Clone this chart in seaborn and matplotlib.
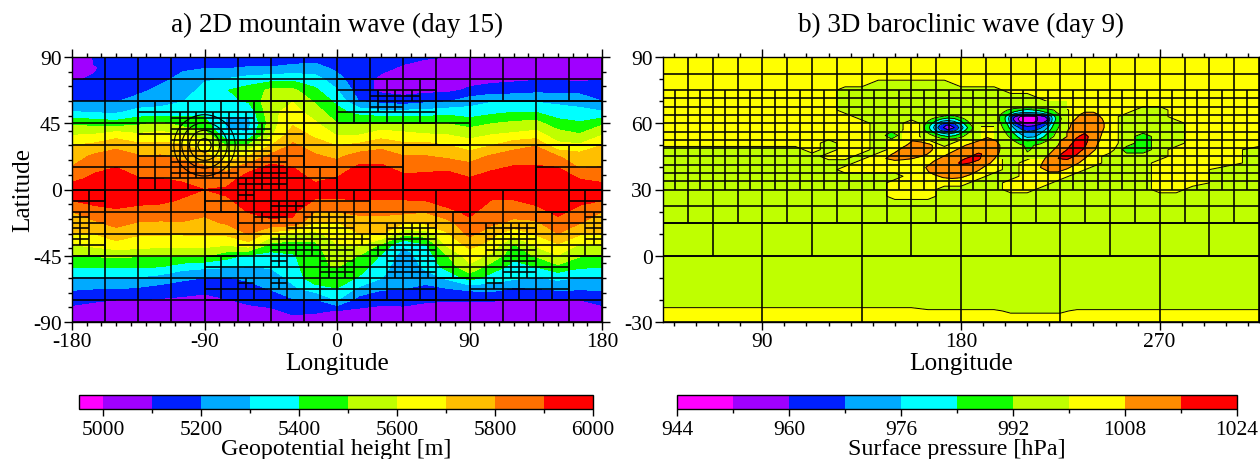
import numpy as np
import matplotlib
matplotlib.use("Agg")
import matplotlib.pyplot as plt
from matplotlib.patches import Circle
from matplotlib.ticker import FixedLocator, MultipleLocator
import seaborn as sns

# -----------------------------
# Panel a) geopotential height, one list per longitude, lat 90 -> -90
# -----------------------------
height_lons = np.arange(-180, 181, 15)
height_lats = np.arange(90, -91, -7.5)
height_columns = [
    [4985,5080,5095,5150,5200,5310,5480,5590,5700,5750,5805,5865,5960,5900,5800,5750,5700,5600,5500,5410,5290,5210,5130,5070,5040],
    [5110,5095,5105,5160,5195,5290,5460,5600,5725,5820,5870,5925,5980,5930,5860,5785,5700,5625,5510,5410,5290,5200,5110,5060,5040],
    [5130,5120,5130,5160,5195,5285,5440,5650,5775,5845,5900,5950,5985,5940,5885,5830,5760,5665,5515,5410,5290,5200,5100,5060,5040],
    [5130,5150,5170,5180,5230,5340,5475,5610,5725,5810,5860,5905,5950,5930,5860,5795,5710,5650,5510,5410,5290,5185,5100,5060,5040],
    [5150,5170,5180,5220,5265,5335,5515,5630,5730,5810,5855,5900,5945,5920,5855,5790,5710,5630,5505,5400,5260,5160,5090,5060,5040],
    [5170,5190,5220,5260,5295,5360,5455,5595,5710,5780,5835,5885,5930,5890,5845,5795,5710,5625,5520,5340,5220,5145,5080,5060,5040],
    [5150,5195,5290,5325,5350,5380,5430,5550,5650,5735,5815,5860,5900,5870,5825,5770,5715,5630,5510,5320,5200,5130,5065,5050,5040],
    [5140,5195,5305,5395,5380,5310,5285,5310,5490,5635,5770,5850,5915,5890,5855,5815,5720,5610,5440,5310,5195,5145,5095,5060,5040],
    [5130,5210,5340,5445,5410,5320,5270,5310,5520,5710,5860,5950,5975,5925,5905,5850,5805,5660,5380,5300,5215,5170,5115,5080,5050],
    [5120,5210,5360,5520,5570,5575,5555,5575,5695,5830,5930,5970,5990,5950,5925,5885,5660,5470,5360,5310,5245,5205,5145,5080,5050],
    [5140,5230,5370,5520,5595,5640,5685,5750,5815,5860,5900,5940,5970,5945,5920,5880,5600,5450,5390,5360,5330,5280,5190,5120,5060],
    [5150,5240,5340,5420,5485,5550,5615,5675,5750,5815,5850,5885,5925,5895,5800,5695,5575,5475,5455,5490,5470,5350,5185,5110,5060],
    [5130,5175,5240,5305,5375,5435,5500,5590,5695,5780,5845,5905,5950,5885,5805,5695,5650,5595,5550,5505,5455,5395,5305,5095,5040],
    [5130,5115,5125,5150,5195,5365,5490,5590,5725,5845,5920,5960,5985,5900,5820,5760,5700,5615,5495,5445,5390,5275,5155,5080,5040],
    [5130,5115,5085,5075,5170,5330,5515,5650,5770,5850,5920,5965,5985,5890,5820,5765,5710,5485,5390,5345,5305,5210,5135,5065,5040],
    [5120,5090,5060,5060,5145,5335,5490,5630,5725,5805,5865,5925,5980,5895,5825,5710,5535,5305,5260,5230,5225,5200,5125,5080,5040],
    [5105,5080,5060,5070,5175,5340,5495,5605,5735,5805,5870,5935,5980,5900,5805,5720,5550,5390,5340,5320,5250,5165,5110,5070,5040],
    [5100,5070,5060,5075,5190,5365,5495,5595,5700,5780,5875,5950,5985,5950,5870,5770,5690,5620,5495,5440,5320,5195,5105,5060,5040],
    [5060,5060,5065,5115,5255,5345,5455,5565,5650,5750,5840,5905,5960,5975,5925,5875,5830,5730,5650,5580,5440,5220,5105,5060,5040],
    [5060,5060,5070,5145,5290,5375,5495,5595,5695,5815,5880,5945,5980,5895,5850,5825,5730,5670,5575,5450,5360,5235,5105,5060,5040],
    [5060,5060,5080,5155,5285,5400,5520,5615,5765,5845,5910,5955,5985,5895,5845,5775,5635,5490,5425,5370,5320,5185,5100,5060,5040],
    [5060,5065,5090,5170,5290,5400,5535,5635,5795,5855,5910,5955,5985,5930,5860,5785,5710,5620,5510,5400,5290,5195,5100,5060,5040],
    [5060,5065,5090,5170,5275,5350,5435,5545,5625,5805,5900,5950,5985,5960,5925,5865,5800,5690,5595,5475,5325,5215,5100,5060,5040],
    [5060,5065,5080,5170,5255,5335,5410,5505,5615,5750,5790,5895,5960,5925,5865,5805,5715,5590,5510,5415,5290,5210,5100,5060,5040],
    [5060,5080,5095,5150,5200,5310,5480,5590,5700,5750,5805,5865,5960,5900,5800,5750,5700,5600,5500,5410,5290,5210,5130,5070,5040],
]
height_levels = [4950] + list(range(5000, 6001, 100))
mountain_center = (-90, 30)
mountain_radii = [4.5, 10.2, 15.4, 20.8]

# mesh blocks: a=45x30 deg, 0=22.5x15, 1=11.25x7.5, 2=split once more
height_mesh = [
    "0000 0000 0000 0000 0000 0000 0000 0000",
    "0000 0000 0000 0000 0000 0000 0000 0000",
    "0000 0000 0000 0000 111111 0000000000",
    "0000 0000 0000 0000 11 222 1 0000000000",
    "0000 1111111111 00 11 22 11 00 aaaaaaaa",
    "0000 11 22222 111 00 111111 00 aaaaaaaa",
    "0000 11 222222 11 00 00000000 aaaaaaaa",
    "0000 11 222222 11 00 00000000 aaaaaaaa",
    "0000 11 222222 11 00 0000 aaaaaaaa 0000",
    "0000 11 2222222 1 00 0000 aaaaaaaa 0000",
    "0000 11 2222 1 22 1 11 0000 aaaaaaaa 0000",
    "0000 11 1111 222 1 11 0000 aaaaaaaa 0000",
    "11 00 0000 11 2 11111 11 000000000000 11",
    "11 00 0000 11 11 22 11 11 000000000000 11",
    "21 00 000000 1 22 1 22 2 1 0000 11 0000 11 1 2",
    "21 00 000000 1 11 2 222 1 1 222 11 1 222 11 1 2",
    "21 00 000000 11 222222 1 222 11 1 222 11 1 2",
    "11 00 000000 11 22222 1 2 222 11 1 222 11 11",
    "00000000 11 11 2 1 1 22 1 1 222 11 11 22 11 00",
    "00000000 11 11111 22 1 1 222 11 11 22 11 00",
    "00000000 11 2 1 2 111 1 1 1111 00 1 2 11 11 00",
    "00000000 11 11 1111 11 1111 00 11 11 11 00",
    "0000 0000 0000 0000 0000 0000 0000 0000",
    "0000 0000 0000 0000 0000 0000 0000 0000",
]

# -----------------------------
# Panel b) surface pressure, band letters read per grid point
# -----------------------------
pressure_lons = [45, 75, 105, 112.5, 120, 127.5, 135, 142.5, 150, 157.5, 165, 172.5, 180, 187.5, 195,
                 202.5, 210, 217.5, 225, 232.5, 240, 247.5, 255, 262.5, 270, 277.5, 285, 300, 315]
pressure_lats = [90, 81, 78, 75, 72, 69, 66, 63, 60, 57, 54, 51, 48, 45, 42, 39, 36, 33, 30, 27, 24, 10, -22, -25, -30]
pressure_codes = {"E": 988, "G": 996, "g": 999, "y": 1001, "Y": 1004}
pressure_rows = [
    "YYYYYYYYYYYYYYYYYYYYYYYYYYYYY",
    "YYYYYYYYYYYYYYYYYYYYYYYYYYYYY",
    "YYYYYYY GGGGG YYYYYYYYYYYYYYYYY",
    "YYYYY GGGGGGGGGG YYYYYYYYYYYYYY",
    "YYYYY GGGGGGGGGGGG YYYYYYYYYYYY",
    "YYYYY GGGGGGGGGGGGG YYYYYYYYYYY",
    "YYYYY GGGGGGGGGGGGGG YYYY GG YYYY",
    "YYYYYY GGGGGGGGGGGGG YY Y GGG YYYY",
    "YYYYYYY GG Y GGGGGGGGG YY Y GGGG YYY",
    "YYYYYYY GG Y GGG YY GGGG YY Y GGGG YYY",
    "YYYYYYY G YY GGG YY GGG Y Y Y Y G E GG YYY",
    "YYYY G YY G Y Y Y G Y YY GG YY Y Y Y G E GG YYY",
    "GGG Y G YY G Y YY Y YYY GG Y Y Y Y Y EE G YYY G",
    "GGGG YY G Y YY YY Y Y Y GG Y YY Y GGGG YYY G",
    "GGGGGG YYYYY Y Y Y Y G YY YY Y GGG YYYY G",
    "GGGGG YYYYYY YYY Y G Y YY Y GGGG YYY GG",
    "GGGGGGGGG YY Y YY GG YYY GGGGG YYY GG",
    "GGGGGGGG YYYYY GG YYY GGGGGG YYY GG",
    "GGGGGGGG YYY GGGG YY GGGGGGG YY GGG",
    "GGGGGGGG YYY GGGGGGGGGGGGGGGGGG",
    "GGGGGGGGGGGGGGGGGGGGGGGGGGGGG",
    "GGGGGGGGGGGGGGGGGGGGGGGGGGGGG",
    "GGGGGGGGGGGGGGGGGGGGGGGGGGGGG",
    "YYYYYYYYYY yyyyy gggg yyyyyyyyyy",
    "YYYYYYYYYYYYYYYYYYYYYYYYYYYYY",
]
pressure_levels = list(range(944, 1025, 8))

# deep lows and the highs need a finer grid than the table above
low_east_lons = np.arange(195, 229, 3)
low_east_lats = [70, 67, 66, 65, 64, 63, 62, 61, 60, 58, 56, 54, 52, 50, 48, 46, 44]
low_east = [
    [999,999,999,999,999,998,999,999,999,999,999,1000],
    [999,998,996,994,993,992,993,994,995,997,999,1000],
    [998,995,992,988,985,982,984,986,989,992,996,999],
    [998,994,989,983,979,977,979,981,985,990,995,999],
    [997,992,985,973,966,965,966,969,975,985,993,998],
    [997,991,981,962,951,949,950,954,963,982,992,998],
    [996,991,980,958,948,946,948,955,959,981,991,997],
    [997,991,981,961,950,948,949,955,961,982,992,998],
    [997,992,983,964,955,953,954,958,966,983,992,998],
    [998,994,987,975,966,963,964,967,975,987,994,999],
    [999,996,990,982,973,969,970,974,982,990,996,1000],
    [1000,998,993,988,980,974,975,980,987,992,997,1000],
    [1000,999,996,992,987,984,985,988,992,996,999,1000],
    [1000,1000,998,996,993,991,992,994,996,999,1000,1000],
    [1000,1000,1000,999,997,991,993,996,999,1000,1000,1000],
    [1000,1000,1000,1000,998,993,995,998,1000,1000,1000,1000],
    [1000,1000,1000,1000,1000,998,1000,1000,1000,1000,1000,1000],
]
low_west_lons = np.arange(162, 190, 3)
low_west_lats = [66, 64, 63, 62, 61, 60, 59, 58, 57, 56, 55, 54, 53, 52]
low_west = [
    [1000,1000,1000,1000,1000,1000,1000,1000,1000,1000],
    [1000,999,998,997,995,996,998,999,1000,1000],
    [999,998,995,992,989,990,994,998,1000,1000],
    [998,995,990,985,981,983,989,995,999,1000],
    [997,992,985,977,974,977,984,992,998,1000],
    [997,990,981,971,967,970,980,990,997,1000],
    [996,988,976,965,958,963,975,987,996,1000],
    [996,987,974,962,956,960,972,984,994,999],
    [996,988,977,966,960,964,975,987,995,1000],
    [997,991,982,972,970,973,982,990,997,1000],
    [998,994,987,981,977,980,986,993,998,1000],
    [999,997,993,987,984,986,990,996,999,1000],
    [1000,999,996,993,991,992,995,998,1000,1000],
    [1000,1000,999,998,997,998,999,1000,1000,1000],
]
low_small_lons = [144, 148.5, 153]
low_small_lats = [57, 54.5, 52]
low_small = [[996, 996, 996], [996, 985, 996], [996, 996, 996]]

high_a_lons = [142, 146, 150, 154, 158, 162, 166, 170]
high_a_lats = [54, 52, 50, 48, 46, 44, 42]
high_a = [
    [1004,1004,1004,1004,1004,1004,1004,1004],
    [1004,1004,1005,1006,1008,1007,1005,1004],
    [1004,1004,1005,1007,1010,1011,1009,1005],
    [1004,1004,1006,1010,1012,1012,1009,1005],
    [1004,1006,1009,1012,1013,1010,1007,1004],
    [1005,1008,1010,1009,1008,1006,1005,1004],
    [1004,1005,1005,1005,1005,1004,1004,1004],
]
high_b_lons = np.arange(160, 201, 4)
high_b_lats = [56, 54, 52, 50, 48, 46, 44, 42, 40, 38, 36, 34]
high_b = [
    [1004,1004,1004,1004,1004,1004,1004,1004,1004,1004,1004],
    [1004,1004,1004,1004,1004,1004,1004,1005,1007,1005,1004],
    [1004,1004,1004,1004,1005,1005,1006,1008,1011,1008,1005],
    [1004,1004,1004,1005,1006,1007,1009,1011,1012,1010,1005],
    [1004,1004,1005,1006,1007,1009,1011,1013,1013,1010,1005],
    [1004,1004,1005,1007,1009,1011,1014,1017,1014,1009,1005],
    [1004,1005,1007,1009,1011,1015,1017,1017,1012,1007,1004],
    [1004,1006,1009,1011,1013,1017,1016,1014,1009,1006,1004],
    [1005,1008,1011,1012,1013,1014,1012,1010,1006,1004,1004],
    [1004,1007,1010,1011,1012,1012,1010,1007,1004,1004,1004],
    [1004,1005,1007,1009,1010,1009,1007,1005,1004,1004,1004],
    [1004,1004,1005,1006,1006,1006,1005,1004,1004,1004,1004],
]
high_c_lons = np.arange(212, 249, 4)
high_c_lats = [68, 66, 64, 62, 60, 58, 56, 54, 52, 50, 48, 46, 44, 42, 40, 38, 36]
high_c = [
    [1004,1004,1004,1004,1004,1004,1004,1004,1004,1004],
    [1004,1004,1004,1004,1005,1006,1007,1006,1005,1004],
    [1004,1004,1004,1005,1006,1007,1009,1010,1006,1004],
    [1004,1004,1004,1005,1006,1008,1011,1011,1008,1004],
    [1004,1004,1004,1005,1007,1009,1012,1012,1009,1004],
    [1004,1004,1004,1005,1007,1010,1013,1013,1009,1004],
    [1004,1004,1004,1006,1008,1012,1015,1014,1008,1004],
    [1004,1004,1005,1006,1008,1015,1018,1013,1007,1004],
    [1004,1004,1005,1007,1011,1017,1018,1012,1006,1004],
    [1004,1004,1005,1008,1014,1019,1017,1010,1005,1004],
    [1004,1005,1006,1010,1016,1019,1015,1009,1004,1004],
    [1004,1005,1008,1015,1018,1017,1011,1006,1004,1004],
    [1004,1006,1010,1016,1017,1013,1008,1005,1004,1004],
    [1004,1007,1012,1014,1012,1009,1006,1004,1004,1004],
    [1004,1008,1012,1012,1009,1006,1004,1004,1004,1004],
    [1004,1006,1008,1008,1006,1004,1004,1004,1004,1004],
    [1004,1004,1004,1004,1004,1004,1004,1004,1004,1004],
]

pressure_mesh = ["1" * 24] * 2 + ["2" * 24] * 6 + ["1" * 24] * 2 + ["0" * 24] * 2 + ["a" * 24] * 4

# -----------------------------
# Style
# -----------------------------
sns.set_theme(style="ticks")
plt.rcParams["font.family"] = ["Liberation Serif", "DejaVu Serif"]
plt.rcParams["axes.unicode_minus"] = False
plt.rcParams["axes.linewidth"] = 1.0

height_colors = sns.color_palette(["#FF00FF", "#A000FF", "#0020FF", "#00AAFF", "#00FFFF", "#10FF00",
                                   "#BFFF00", "#FFFF00", "#FFBF00", "#FF7000", "#FF0000"])
pressure_colors = sns.color_palette(["#FF00FF", "#A000FF", "#0020FF", "#00AAFF", "#00FFFF", "#10FF00",
                                     "#BFFF00", "#FFFF00", "#FF8C00", "#FF0000"])


def draw_mesh(ax, rows, x0, y_top, dx, dy):
    xs, ys = [], []
    for r, row in enumerate(rows):
        for c, ch in enumerate(row.replace(" ", "")):
            span = {"a": 4, "0": 2}.get(ch, 1)
            left = x0 + (c - c % span) * dx
            top = y_top - (r - r % span) * dy
            right, bottom = left + span * dx, top - span * dy
            xs += [(left, bottom, top), (right, bottom, top)]
            ys += [(top, left, right), (bottom, left, right)]
            if ch == "2":
                xs.append(((left + right) / 2, bottom, top))
                ys.append(((top + bottom) / 2, left, right))
    xs, ys = sorted(set(xs)), sorted(set(ys))
    ax.vlines([v[0] for v in xs], [v[1] for v in xs], [v[2] for v in xs], color="black", lw=1.15, zorder=5)
    ax.hlines([v[0] for v in ys], [v[1] for v in ys], [v[2] for v in ys], color="black", lw=1.15, zorder=5)


def style_axes(ax, xmajor, ymajor):
    ax.xaxis.set_major_locator(FixedLocator(xmajor))
    ax.yaxis.set_major_locator(FixedLocator(ymajor))
    ax.xaxis.set_minor_locator(MultipleLocator(10))
    ax.yaxis.set_minor_locator(MultipleLocator(10))
    ax.tick_params(which="major", length=6, width=1, direction="out", top=True, right=True,
                   labelsize=15.5, pad=1.5, color="black", labelcolor="black")
    ax.tick_params(which="minor", length=3, width=1, direction="out", top=True, right=True, color="black")
    for s in ax.spines.values():
        s.set_color("black")
        s.set_zorder(6)


def add_colorbar(fig, cf, box, ticks, minor, label):
    cax = fig.add_axes(box)
    cbar = fig.colorbar(cf, cax=cax, orientation="horizontal", spacing="proportional")
    cbar.set_ticks(ticks)
    cbar.set_ticks(minor, minor=True)
    cbar.ax.tick_params(which="major", length=5, width=1, labelsize=15.5, pad=3, color="black", labelcolor="black")
    cbar.ax.tick_params(which="minor", length=3, width=1, color="black")
    cbar.outline.set_edgecolor("black")
    cbar.outline.set_linewidth(1)
    cbar.set_label(label, fontsize=17.3, color="black", labelpad=-0.5)


W, H = 1260, 460


def box(x0, x1, y0, y1):
    return [x0 / W, 1 - y1 / H, (x1 - x0) / W, (y1 - y0) / H]


fig = plt.figure(figsize=(12.6, 4.6), dpi=100)

# -----------------------------
# a) 2D mountain wave
# -----------------------------
ax1 = fig.add_axes(box(72, 602, 58, 323))
height_field = np.array(height_columns).T
cf1 = ax1.contourf(height_lons, height_lats, height_field, levels=height_levels, colors=height_colors, zorder=1)
for r in mountain_radii:
    ax1.add_patch(Circle(mountain_center, r, fill=False, edgecolor="black", lw=0.8, zorder=4))
draw_mesh(ax1, height_mesh, -180, 90, 11.25, 7.5)
ax1.set_xlim(-180, 180)
ax1.set_ylim(-90, 90)
style_axes(ax1, [-180, -90, 0, 90, 180], [-90, -45, 0, 45, 90])
ax1.set_xlabel("Longitude", fontsize=18.2, color="black", labelpad=0.5)
ax1.set_ylabel("Latitude", fontsize=18.2, color="black", labelpad=-1)
ax1.set_title("a) 2D mountain wave (day 15)", fontsize=19.5, color="black", pad=18.5)

# -----------------------------
# b) 3D baroclinic wave
# -----------------------------
ax2 = fig.add_axes(box(663, 1259, 58, 323))
pressure_field = np.array([[pressure_codes[ch] for ch in row.replace(" ", "")] for row in pressure_rows], dtype=float)
cf2 = ax2.contourf(pressure_lons, pressure_lats, pressure_field, levels=pressure_levels, colors=pressure_colors, zorder=1)
ax2.contour(pressure_lons, pressure_lats, pressure_field, levels=[992, 1000],
            colors="black", linewidths=0.7, zorder=2)
for lons, lats, values in [(low_east_lons, low_east_lats, low_east),
                           (low_west_lons, low_west_lats, low_west),
                           (low_small_lons, low_small_lats, low_small)]:
    ax2.contourf(lons, lats, values, levels=pressure_levels[:8], colors=pressure_colors[:7], zorder=3)
    ax2.contour(lons, lats, values, levels=pressure_levels[1:7], colors="black", linewidths=0.6, zorder=4)
for lons, lats, values in [(high_a_lons, high_a_lats, high_a),
                           (high_b_lons, high_b_lats, high_b),
                           (high_c_lons, high_c_lats, high_c)]:
    ax2.contourf(lons, lats, values, levels=pressure_levels[8:], colors=pressure_colors[8:], zorder=3)
    ax2.contour(lons, lats, values, levels=[1008, 1016], colors="black", linewidths=0.7, zorder=4)
draw_mesh(ax2, pressure_mesh, 45, 90, 11.25, 7.5)
ax2.set_xlim(45, 315)
ax2.set_ylim(-30, 90)
style_axes(ax2, [90, 180, 270], [-30, 0, 30, 60, 90])
ax2.set_xlabel("Longitude", fontsize=18.2, color="black", labelpad=0.5)
ax2.set_title("b) 3D baroclinic wave (day 9)", fontsize=19.5, color="black", pad=18.5)

# -----------------------------
# Colour bars
# -----------------------------
add_colorbar(fig, cf1, box(79, 593, 396, 410), list(range(5000, 6001, 200)),
             list(range(5100, 6000, 200)), "Geopotential height [m]")
add_colorbar(fig, cf2, box(677, 1237, 396, 410), list(range(944, 1025, 16)),
             list(range(952, 1024, 16)), "Surface pressure [hPa]")

fig.savefig("out.png", dpi=100)
